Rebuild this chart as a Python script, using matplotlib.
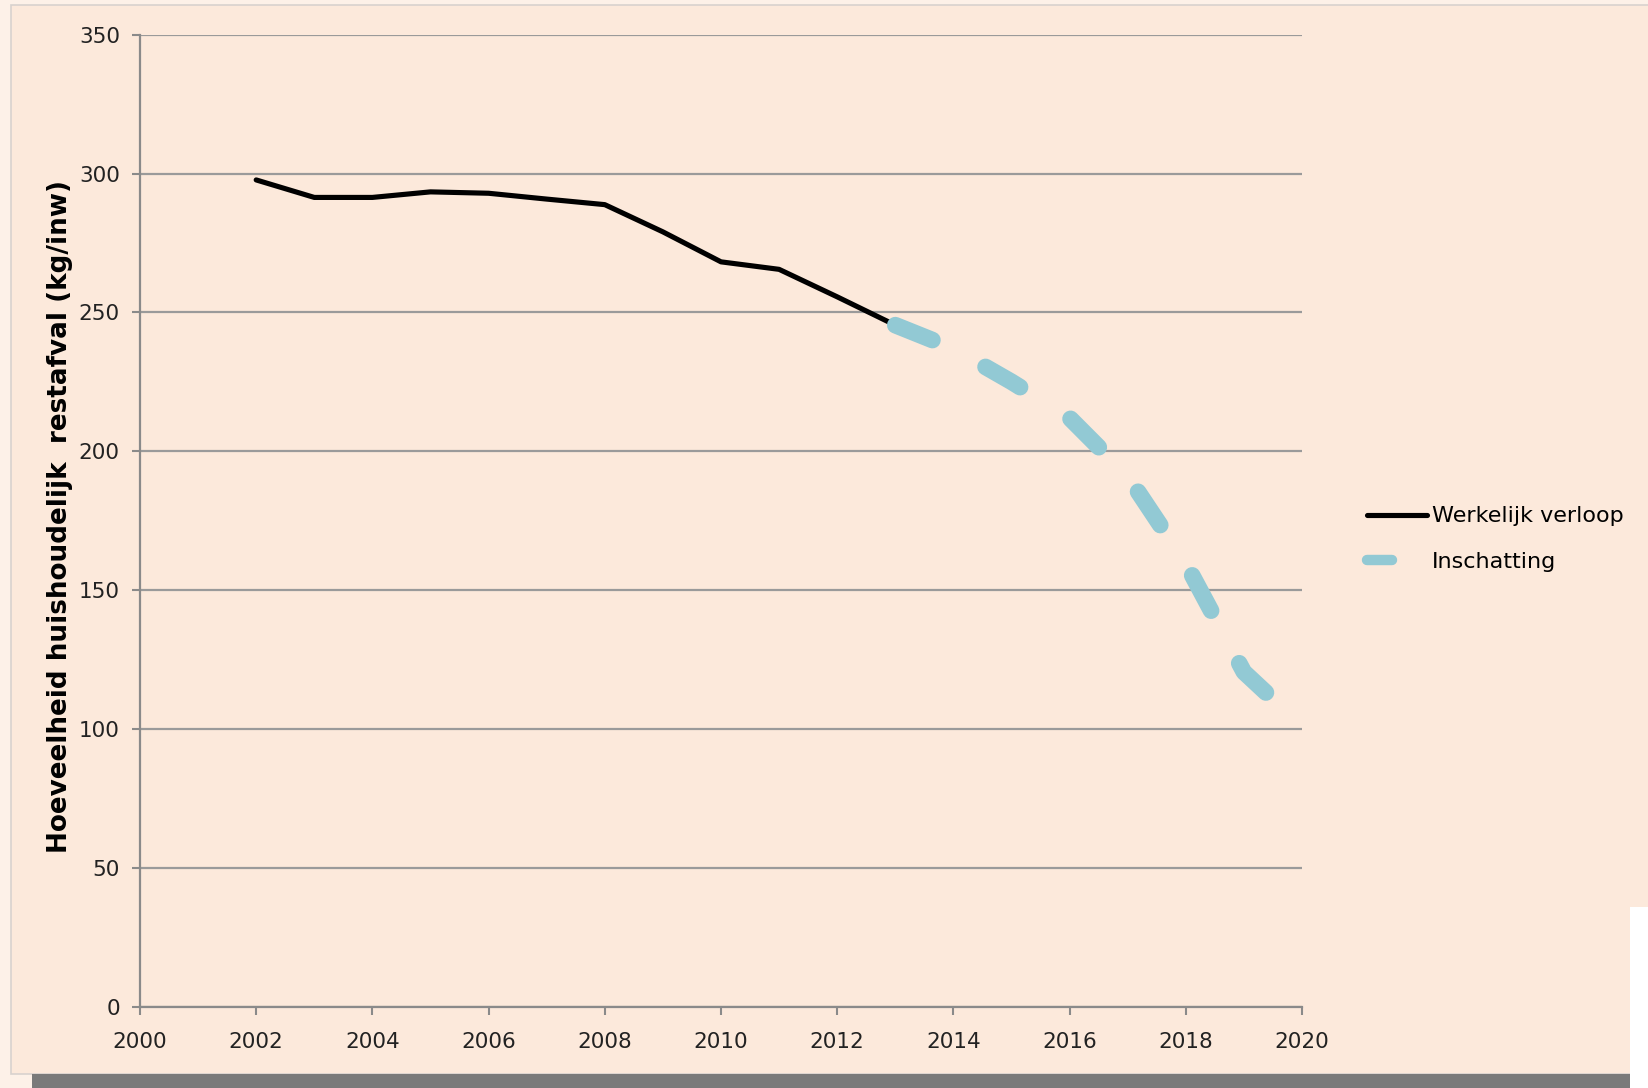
import numpy as np
import matplotlib
matplotlib.use("Agg")
import matplotlib.pyplot as plt
from matplotlib.patches import Rectangle
from matplotlib.lines import Line2D

# values
years_actual = [2002, 2003, 2004, 2005, 2006, 2007, 2008, 2009, 2010, 2011, 2012, 2013]
waste_actual = [297.7, 291.4, 291.4, 293.4, 292.9, 290.8, 288.8, 279.0, 268.2, 265.5, 255.6, 245.4]

years_estimate = [2013, 2014, 2015, 2016, 2017, 2018, 2019, 2020]
waste_estimate = [245.4, 237.0, 225.0, 212.0, 191.0, 159.6, 120.5, 101.0]

x_ticks = list(range(2000, 2021, 2))
y_ticks = list(range(0, 351, 50))

label_actual = "Werkelijk verloop"
label_estimate = "Inschatting"
y_label = "Hoeveelheid huishoudelijk  restafval (kg/inw)"

peach = "#FCE9DB"
grid_grey = "#9A9A9A"
blue = "#92C9D4"

W, H = 1649, 1088
fig = plt.figure(figsize=(W / 100, H / 100), dpi=100)
fig.patch.set_facecolor("#FDF1E8")

# background panel, bottom shadow bar and white corner (pixel layout of the reference)
def px_rect(x0, y0, x1, y1, z, **kw):
    r = Rectangle((x0 / W, 1 - y1 / H), (x1 - x0) / W, (y1 - y0) / H,
                  transform=fig.transFigure, zorder=z, **kw)
    fig.patches.append(r)

px_rect(11, 5, W + 5, 1074, -3, facecolor=peach, edgecolor="#D8D2CE", linewidth=1.2)
px_rect(32, 1074, 1630, H + 2, -2, facecolor="#7A7A7A", edgecolor="none")
px_rect(1630, 907, W + 2, H + 2, -1, facecolor="white", edgecolor="none")

ax = fig.add_axes([140 / W, 1 - 1006.6 / H, (1302 - 140) / W, (1006.6 - 34.7) / H])
ax.set_facecolor("none")

l1, = ax.plot(years_actual, waste_actual, color="black", lw=3.7,
              solid_capstyle="round", solid_joinstyle="round", zorder=3)
l2, = ax.plot(years_estimate, waste_estimate, color=blue, lw=12,
              dash_capstyle="round", zorder=4)
l2.set_dashes((2.4, 3.58))

ax.set_xlim(2000, 2020)
ax.set_ylim(0, 350)
ax.set_xticks(x_ticks)
ax.set_yticks(y_ticks)
ax.tick_params(axis="both", labelsize=15.5, colors="#222222", length=5.5, width=1.5)
ax.tick_params(axis="both", color="#8A8A8A")
ax.tick_params(axis="x", pad=12.5)
ax.tick_params(axis="y", pad=9)

ax.yaxis.grid(True, color=grid_grey, lw=1.6)
ax.set_axisbelow(True)
for s in ["top", "right"]:
    ax.spines[s].set_visible(False)
for s in ["left", "bottom"]:
    ax.spines[s].set_color("#8A8A8A")
    ax.spines[s].set_linewidth(1.6)

ax.set_ylabel(y_label, fontsize=18.9, fontweight="bold", color="black")
ax.yaxis.set_label_coords(-0.058, 0.504)

h1 = Line2D([], [], color="black", lw=3.7, solid_capstyle="round")
h2 = Line2D([], [], color=blue, lw=7.5, dash_capstyle="round", dashes=(2.4, 10))
leg = ax.legend(handles=[h1, h2], labels=[label_actual, label_estimate],
                loc="center left", bbox_to_anchor=(1.056, 0.481),
                frameon=False, fontsize=16, handlelength=2.7, handletextpad=0.23,
                labelspacing=1.15, borderpad=0, borderaxespad=0)

fig.savefig("out.png", dpi=100, facecolor=fig.get_facecolor())
